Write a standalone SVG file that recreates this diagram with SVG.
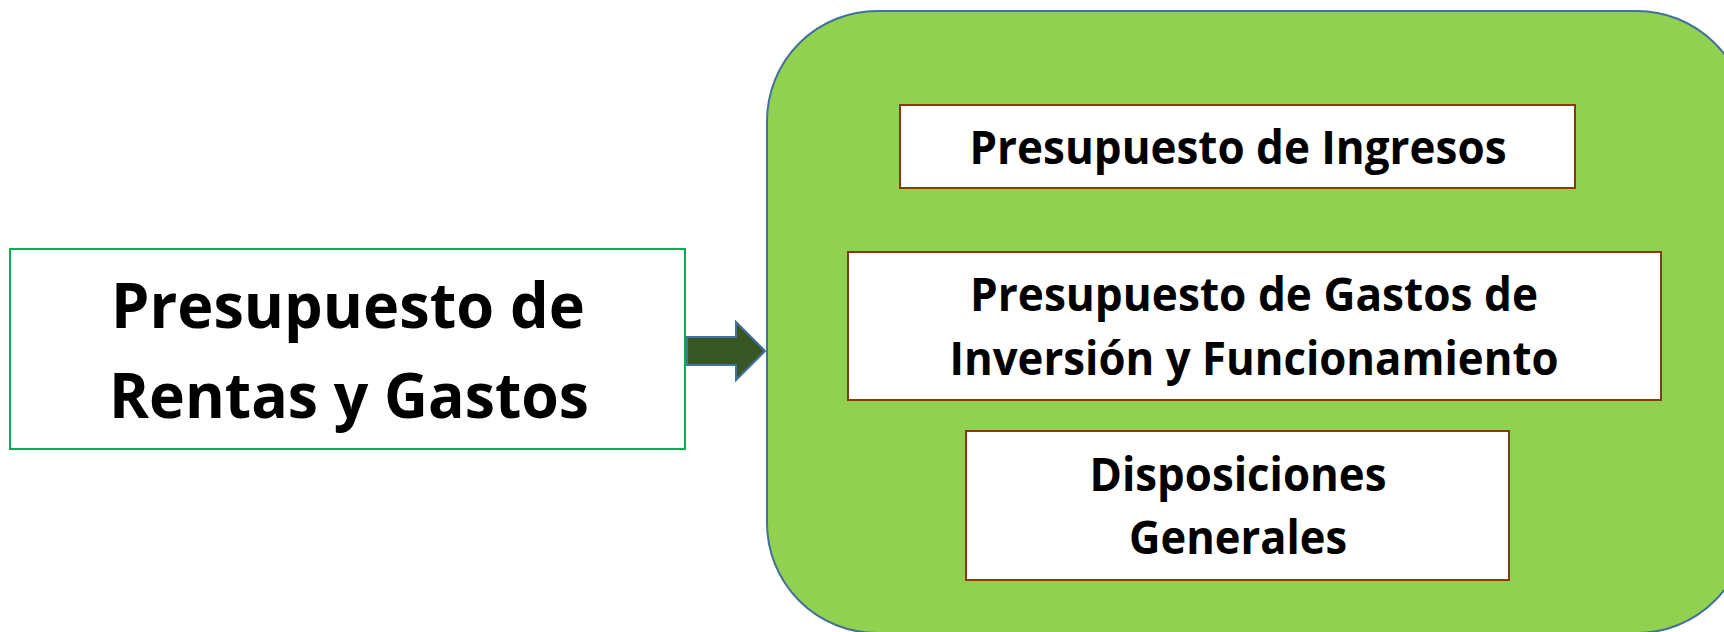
<svg xmlns="http://www.w3.org/2000/svg" width="1724" height="632" viewBox="0 0 1724 632">
<style>
.t{font-family:"Open Sans","Noto Sans","Liberation Sans",sans-serif;font-weight:bold;fill:#000;text-anchor:middle}
.big{font-size:63px}
.med{font-size:47px}
.inner{fill:#fff;stroke:#843C0C;stroke-width:2}
</style>
<rect width="1724" height="632" fill="#fff"/>
<g id="source">
<rect x="10" y="249" width="675" height="200" fill="#fff" stroke="#00B050" stroke-width="2"/>
<text class="t big" x="348" y="328" textLength="474" lengthAdjust="spacingAndGlyphs">Presupuesto de</text>
<text class="t big" x="349" y="418" textLength="480" lengthAdjust="spacingAndGlyphs">Rentas y Gastos</text>
</g>
<g id="connectors">
<polygon points="687,337 736,337 736,322 765,351 736,380 736,365 687,365" fill="#375623" stroke="#41719C" stroke-width="2"/>
</g>
<g id="container">
<rect x="767" y="11" width="980" height="622" rx="110" ry="110" fill="#92D050" stroke="#41719C" stroke-width="2"/>
</g>
<g id="ingresos">
<rect class="inner" x="900" y="105" width="675" height="83"/>
<text class="t med" x="1238" y="164" textLength="537" lengthAdjust="spacingAndGlyphs">Presupuesto de Ingresos</text>
</g>
<g id="gastos">
<rect class="inner" x="848" y="252" width="813" height="148"/>
<text class="t med" x="1254" y="311" textLength="568" lengthAdjust="spacingAndGlyphs">Presupuesto de Gastos de</text>
<text class="t med" x="1254" y="375" textLength="609" lengthAdjust="spacingAndGlyphs">Inversión y Funcionamiento</text>
</g>
<g id="disposiciones">
<rect class="inner" x="966" y="431" width="543" height="149"/>
<text class="t med" x="1238" y="491" textLength="297" lengthAdjust="spacingAndGlyphs">Disposiciones</text>
<text class="t med" x="1238" y="554" textLength="218" lengthAdjust="spacingAndGlyphs">Generales</text>
</g>
</svg>
